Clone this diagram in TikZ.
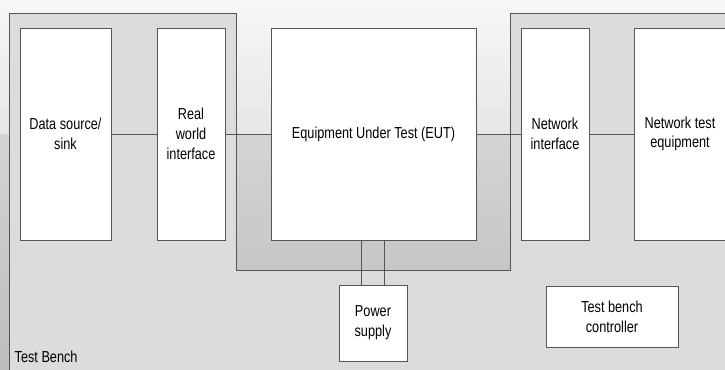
\documentclass[tikz,border=0pt]{standalone}
\usepackage{fontspec}
\setmainfont{Liberation Sans}
\newfontfamily\benchfont[FakeStretch=0.8]{Liberation Sans}
\usetikzlibrary{positioning, calc}
\usepackage{xcolor}
\definecolor{tbtop}{HTML}{F7F7F7}
\definecolor{tbmid}{HTML}{E6E6E6}
\definecolor{tbshade}{HTML}{D4D4D4}
\definecolor{tbdeep}{HTML}{BDBDBD}
\definecolor{tbfill}{HTML}{DCDCDC}
\definecolor{tbline}{HTML}{555555}
\definecolor{tbbox}{HTML}{FFFFFF}

\tikzset{
  unit/.style={draw=tbline, fill=tbbox, line width=0.6pt, align=center,
               inner sep=2pt, minimum height=5.3cm},
  smallunit/.style={draw=tbline, fill=tbbox, line width=0.6pt, align=center,
                    inner sep=2pt},
  wire/.style={draw=tbline, line width=0.6pt}
}

\begin{document}
\begin{tikzpicture}[font=\benchfont\fontsize{11.3}{14}\selectfont]
    \useasboundingbox (0,0) rectangle (18.125,9.225);
    \clip (0,0) rectangle (18.125,9.225);
    % background
    \shade[top color=tbtop, bottom color=tbmid] (0,5.875) rectangle (18.125,9.225);
    \shade[top color=tbshade, bottom color=tbdeep] (0,0) rectangle (18.125,5.875);
    % test bench area
    \draw[draw=tbline, fill=tbfill, line width=0.6pt]
      (0.225,-0.2) -- (0.225,8.9) -- (5.9,8.9) -- (5.9,2.475)
      -- (12.75,2.475) -- (12.75,8.9) -- (18.4,8.9) -- (18.4,-0.2);
    \node[anchor=west, inner sep=0pt] (bench) at (0.36,0.3) {Test Bench};

    \node[unit, minimum width=2.275cm] (src) at (1.6375,5.875) {Data source/\\sink};
    \node[unit, minimum width=1.7cm] (rwi) at (4.775,5.875) {Real\\world\\interface};
    \node[unit, minimum width=5.125cm] (eut) at (9.3375,5.875) {Equipment Under Test (EUT)};
    \node[unit, minimum width=1.7cm] (nif) at (13.875,5.875) {Network\\interface};
    \node[unit, minimum width=2.275cm] (nte) at (17.0,5.875) {Network test\\equipment};
    \node[smallunit, minimum width=1.7cm, minimum height=1.9cm] (psu) at (9.325,1.15) {Power\\supply};
    \node[smallunit, minimum width=3.3cm, minimum height=1.525cm] (ctl) at (15.3,1.3125) {Test bench\\controller};

    \draw[wire] (src) -- (rwi);
    \draw[wire] (rwi) -- (eut);
    \draw[wire] (eut) -- (nif);
    \draw[wire] (nif) -- (nte);
    \draw[wire] ([xshift=-0.28cm]psu.north) -- ([xshift=-0.28cm]psu.north |- eut.south);
    \draw[wire] ([xshift=0.28cm]psu.north) -- ([xshift=0.28cm]psu.north |- eut.south);
  \end{tikzpicture}
\end{document}
